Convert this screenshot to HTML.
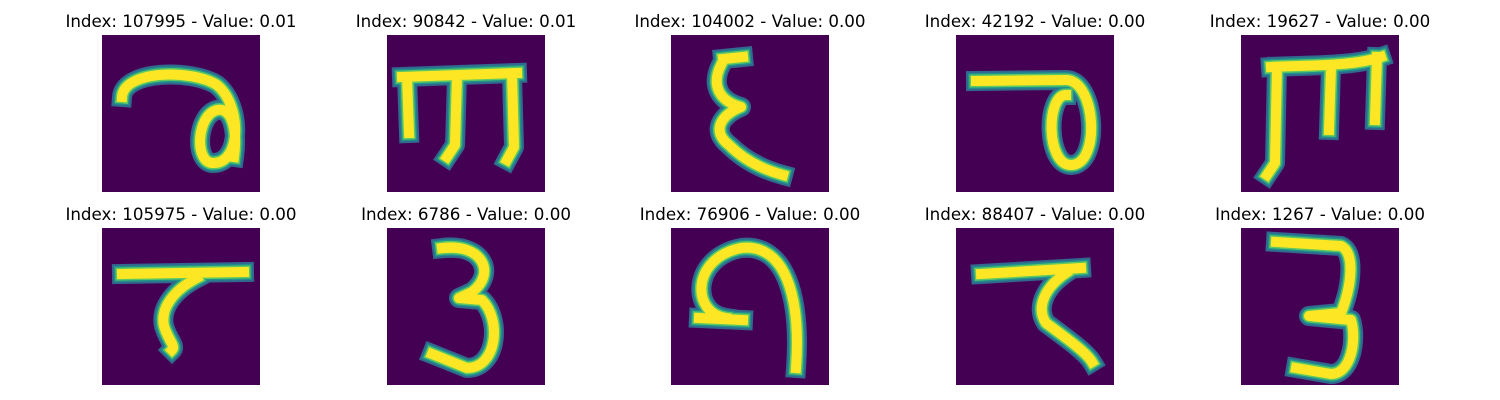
<!DOCTYPE html>
<html><head><meta charset="utf-8"><style>
body{margin:0;background:#fff;width:1500px;height:400px;overflow:hidden;font-family:"DejaVu Sans","Liberation Sans",sans-serif}
svg{display:block}
</style></head><body>
<svg id="chart" width="1500" height="400"></svg>
<script>
const indices=[107995,90842,104002,42192,19627,105975,6786,76906,88407,1267];
const values=["0.01","0.01","0.00","0.00","0.00","0.00","0.00","0.00","0.00","0.00"];
const glyphs=[
"M20,62 C22,35 90,34 115,50 C140,70 140,130 110,128 C92,126 95,80 115,75 C132,72 135,100 132,122",
"M15,42 L130,38 M20,42 L22,98 M70,42 L68,110 L60,122 M125,40 L127,112 L120,125",
"M52,24 L72,22 M50,30 C40,50 48,66 70,72 C50,80 40,96 58,110 C72,124 90,134 112,140",
"M20,46 L110,45 C140,45 145,130 115,130 C90,130 90,60 110,60",
"M30,32 C60,30 110,32 140,22 M36,32 L34,128 L26,140 M90,32 L88,95 M136,22 L134,85",
"M20,46 L142,44 M95,50 C72,62 58,80 62,98 C66,112 74,118 70,122",
"M55,20 C95,15 110,45 85,64 L72,70 L95,72 C115,92 110,140 80,140 L45,126",
"M55,90 C20,85 20,30 70,20 C115,15 130,70 125,140 M28,90 L72,92",
"M25,46 L125,40 M110,45 C88,60 80,80 90,95 C110,110 130,124 136,134",
"M35,14 L100,18 C115,25 110,60 100,85 L68,88 L110,92 C116,112 110,146 90,146 L55,140"
];
const svg=document.getElementById('chart');
const NS="http://www.w3.org/2000/svg";
const xs=[102,387,671,956,1241], ys=[35,228], W=158, H=157;
indices.forEach((idx,i)=>{
  const x=xs[i%5], y=ys[Math.floor(i/5)];
  const g=document.createElementNS(NS,'g');
  
  
  g.setAttribute('transform',`translate(${x},${y})`);
  const r=document.createElementNS(NS,'rect');
  
  
  r.setAttribute('width',W);r.setAttribute('height',H);r.setAttribute('fill','#440154');
  g.appendChild(r);
  [['#31688e',20],['#21918c',16],['#5ec962',13],['#fde725',10]].forEach(([c,w])=>{
    const p=document.createElementNS(NS,'path');
    
    
    p.setAttribute('d',glyphs[i]);p.setAttribute('fill','none');
    p.setAttribute('stroke',c);p.setAttribute('stroke-width',w);
    p.setAttribute('stroke-linecap','square');p.setAttribute('stroke-linejoin','round');
    g.appendChild(p);
  });
  svg.appendChild(g);
  const t=document.createElementNS(NS,'text');
  
  
  t.setAttribute('x',x+W/2);t.setAttribute('y',y-8);
  t.setAttribute('text-anchor','middle');t.setAttribute('font-size','16.7');
  t.textContent=`Index: ${idx} - Value: ${values[i]}`;
  svg.appendChild(t);
});
</script>
</body></html>
